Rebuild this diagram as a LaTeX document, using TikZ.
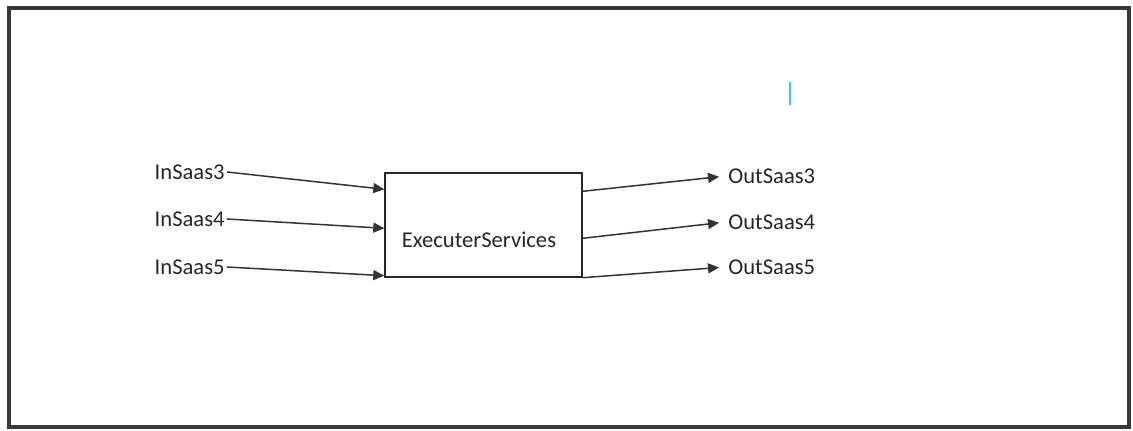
\documentclass[tikz,border=0pt]{standalone}
\usepackage{fontspec}
\setmainfont{Carlito}
\usetikzlibrary{arrows.meta,positioning}
\definecolor{cursorcyan}{RGB}{60,205,205}

\begin{document}
\begin{tikzpicture}[x=0.5pt, y=-0.5pt, >={Triangle[length=5.5pt,width=5pt]},
  box/.style={draw=black!85,line width=0.7pt,minimum width=98.5pt,minimum height=52pt,inner sep=0pt},
  port/.style={inner xsep=1pt,inner ysep=0pt,font=\fontsize{11.3}{13}\selectfont,text=black!85},
  link/.style={->,draw=black!80,line width=0.75pt}]
\useasboundingbox (0,0) rectangle (1133,431);
\draw[line width=2pt, draw=black!78] (9,8) rectangle (1129,427);
\draw[cursorcyan, line width=0.6pt] (790,82) -- (790,105);
\node[box] (exec) at (483.5,225) {};
\node[port] (execlbl) at (479,240) {ExecuterServices};
% inputs
\node[port, anchor=east] (in3) at (227,172) {InSaas3};
\node[port, anchor=east] (in4) at (227,219) {InSaas4};
\node[port, anchor=east] (in5) at (227,267) {InSaas5};
\draw[link] (in3.east) -- ([yshift=-8.5pt]exec.north west);
\draw[link] (in4.east) -- ([yshift=-28pt]exec.north west);
\draw[link] (in5.east) -- ([yshift=1pt]exec.south west);
% outputs
\node[port, anchor=west] (out3) at (726,176) {OutSaas3};
\node[port, anchor=west] (out4) at (726,222) {OutSaas4};
\node[port, anchor=west] (out5) at (726,267) {OutSaas5};
\draw[link, shorten >=3.5pt] ([yshift=-9.5pt]exec.north east) -- (out3.west);
\draw[link, shorten >=3.5pt] ([yshift=-33pt]exec.north east) -- (out4.west);
\draw[link, shorten >=3.5pt] (exec.south east) -- (out5.west);
\end{tikzpicture}
\end{document}
